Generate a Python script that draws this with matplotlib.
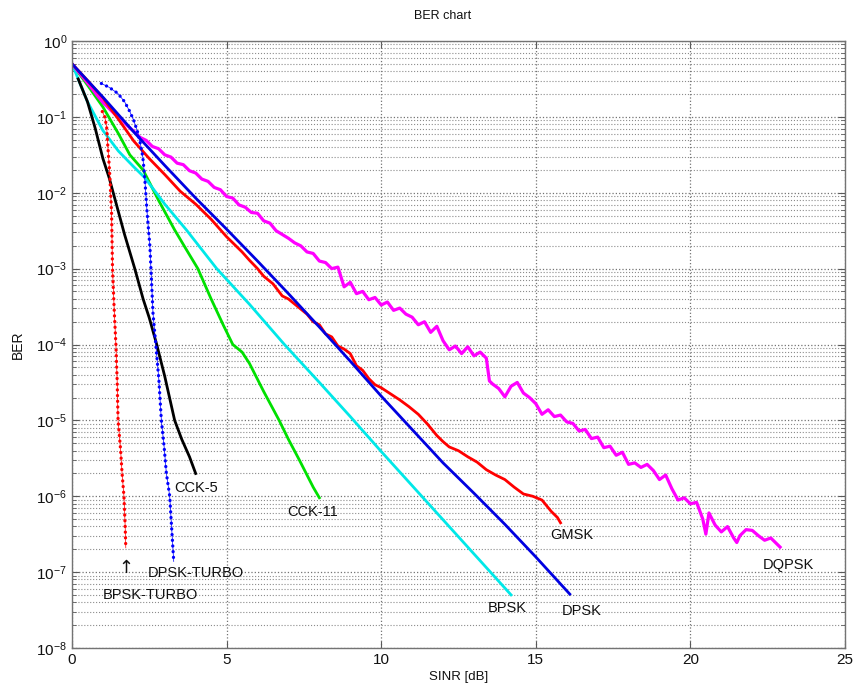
import numpy as np
import matplotlib
matplotlib.use("Agg")
import matplotlib.pyplot as plt
from matplotlib.ticker import FixedLocator, NullFormatter, LogFormatterMathtext

plt.rcParams['font.family'] = ['Liberation Sans', 'DejaVu Sans']
plt.rcParams['mathtext.default'] = 'regular'

# ---------------- data (SINR in dB, BER given as log10 exponent) ----------------
bpsk_x = [0, 0.25, 0.5, 1.0, 1.5, 2.0, 2.35, 3.0, 3.7, 4.68, 5.74, 6.87, 8.0, 9.0, 10.0, 11.0, 12.0, 13.0, 14.2]
bpsk_log = [-0.3, -0.55, -0.8, -1.18, -1.45, -1.66, -1.8, -2.15, -2.49, -3.0, -3.47, -4.0, -4.5, -4.95, -5.41, -5.86, -6.31, -6.76, -7.3]

dpsk_x = [0, 1, 2, 3, 4, 5, 6, 7, 8, 9, 10, 11, 12, 13, 14, 15, 16.1]
dpsk_log = [-0.3, -0.74, -1.2, -1.64, -2.07, -2.48, -2.9, -3.33, -3.77, -4.22, -4.68, -5.12, -5.56, -5.96, -6.37, -6.8, -7.29]

cck11_x = [0, 0.5, 1.0, 1.5, 1.87, 2.3, 2.8, 3.32, 3.7, 4.07, 4.5, 4.9, 5.2, 5.5, 5.74, 6.2, 6.7, 7.0, 7.35, 7.6, 7.8, 8.0]
cck11_log = [-0.3, -0.58, -0.87, -1.22, -1.5, -1.7, -2.1, -2.49, -2.75, -3.0, -3.4, -3.75, -4.0, -4.1, -4.25, -4.62, -5.0, -5.25, -5.52, -5.72, -5.88, -6.02]

cck5_x = [0.2, 0.5, 0.75, 1.0, 1.2, 1.4, 1.7, 2.03, 2.3, 2.5, 2.74, 3.0, 3.32, 3.55, 3.8, 4.0]
cck5_log = [-0.5, -0.8, -1.15, -1.55, -1.8, -2.1, -2.55, -3.0, -3.4, -3.65, -4.0, -4.42, -5.0, -5.25, -5.48, -5.7]

gmsk_x = [0, 0.5, 1.0, 1.5, 2.0, 2.5, 3.0, 3.5, 4.0, 4.5, 5.0, 5.5, 5.74, 6.0, 6.2, 6.5, 6.8, 7.0, 7.3, 7.6,
          7.8, 8.0, 8.2, 8.4, 8.6, 8.8, 9.0, 9.2, 9.4, 9.6, 9.8, 10.0, 10.3, 10.6, 10.9, 11.2, 11.5, 11.8,
          12.0, 12.2, 12.5, 12.8, 13.1, 13.4, 13.7, 14.0, 14.3, 14.6, 14.9, 15.2, 15.5, 15.7, 15.8]
gmsk_log = [-0.3, -0.52, -0.75, -1.03, -1.32, -1.55, -1.76, -1.98, -2.15, -2.35, -2.58, -2.78, -2.89, -3.0, -3.1, -3.2,
            -3.36, -3.4, -3.5, -3.6, -3.7, -3.74, -3.86, -3.9, -4.02, -4.06, -4.12, -4.28, -4.34, -4.45, -4.53,
            -4.57, -4.65, -4.73, -4.82, -4.92, -5.05, -5.2, -5.28, -5.35, -5.4, -5.48, -5.55, -5.65, -5.72,
            -5.78, -5.88, -5.97, -6.0, -6.05, -6.2, -6.28, -6.35]

dqpsk_x = [0.0, 0.2, 0.4, 0.6, 0.8, 1.0, 1.2, 1.4, 1.6, 1.8, 2.0, 2.2, 2.4, 2.6, 2.8, 3.0, 3.2, 3.4, 3.6, 3.8,
           4.0, 4.2, 4.4, 4.6, 4.8, 5.0, 5.2, 5.4, 5.6, 5.8, 6.0, 6.2, 6.4, 6.6, 6.8, 7.0, 7.2, 7.4, 7.6, 7.8,
           8.0, 8.2, 8.4, 8.6, 8.8, 9.0, 9.2, 9.4, 9.6, 9.8, 10.0, 10.2, 10.4, 10.6, 10.8, 11.0, 11.2, 11.4,
           11.6, 11.8, 12.0, 12.2, 12.4, 12.6, 12.8, 13.0, 13.2, 13.4, 13.5, 13.6, 13.8, 14.0, 14.2, 14.4,
           14.6, 14.8, 15.0, 15.2, 15.4, 15.6, 15.8, 16.0, 16.2, 16.4, 16.6, 16.8, 17.0, 17.2, 17.4, 17.6,
           17.8, 18.0, 18.2, 18.4, 18.6, 18.8, 19.0, 19.2, 19.4, 19.6, 19.8, 20.0, 20.2, 20.4, 20.5, 20.6,
           20.8, 21.0, 21.2, 21.4, 21.5, 21.6, 21.8, 22.0, 22.2, 22.4, 22.6, 22.8, 22.9]
dqpsk_log = [-0.30, -0.40, -0.50, -0.60, -0.71, -0.81, -0.89, -0.97, -1.03, -1.12, -1.19, -1.27, -1.31, -1.39,
             -1.42, -1.50, -1.53, -1.61, -1.63, -1.71, -1.74, -1.82, -1.85, -1.93, -1.96, -2.05, -2.07, -2.16,
             -2.19, -2.26, -2.27, -2.37, -2.40, -2.50, -2.55, -2.60, -2.66, -2.70, -2.78, -2.80, -2.90, -2.92,
             -3.00, -2.98, -3.24, -3.18, -3.33, -3.30, -3.41, -3.38, -3.48, -3.44, -3.55, -3.52, -3.60, -3.64,
             -3.74, -3.70, -3.84, -3.76, -3.95, -4.07, -4.02, -4.12, -4.03, -4.15, -4.10, -4.18, -4.48, -4.52,
             -4.58, -4.69, -4.55, -4.50, -4.64, -4.70, -4.78, -4.92, -4.86, -4.95, -4.93, -5.02, -5.04, -5.14,
             -5.12, -5.24, -5.22, -5.36, -5.34, -5.46, -5.42, -5.58, -5.56, -5.62, -5.58, -5.66, -5.78, -5.72,
             -5.90, -6.05, -6.02, -6.10, -6.08, -6.30, -6.50, -6.22, -6.38, -6.47, -6.40, -6.55, -6.61, -6.52,
             -6.44, -6.45, -6.52, -6.58, -6.55, -6.63, -6.67]

bpsk_turbo_x = [0.98, 1.06, 1.12, 1.16, 1.2, 1.23, 1.28, 1.31, 1.37, 1.42, 1.46, 1.49, 1.57, 1.62, 1.68, 1.72, 1.74]
bpsk_turbo_log = [-0.93, -1.0, -1.13, -1.4, -1.62, -1.83, -2.27, -3.0, -3.59, -4.0, -4.47, -5.0, -5.38, -5.7, -6.0, -6.4, -6.68]

dpsk_turbo_x = [0.95, 1.2, 1.48, 1.7, 1.87, 2.0, 2.13, 2.22, 2.29, 2.33, 2.36, 2.43, 2.52, 2.57, 2.62, 2.71,
                2.81, 2.89, 2.98, 3.05, 3.16, 3.22, 3.29]
dpsk_turbo_log = [-0.56, -0.61, -0.69, -0.8, -0.93, -1.05, -1.21, -1.37, -1.53, -1.7, -1.85, -2.27, -2.71, -3.15,
                  -3.59, -4.0, -4.47, -5.0, -5.35, -5.69, -6.0, -6.4, -6.86]

# labels: (text, x, log10 BER)
label_text = ["CCK-5", "CCK-11", "DPSK-TURBO", "BPSK-TURBO", "GMSK", "DQPSK", "BPSK", "DPSK"]
label_x = [3.3, 6.97, 2.45, 1.0, 15.48, 22.35, 13.45, 15.84]
label_log = [-5.89, -6.21, -7.01, -7.3, -6.51, -6.9, -7.47, -7.51]
arrow_x, arrow_log = 1.74, -6.94

x_ticks = [0, 5, 10, 15, 20, 25]
y_tick_exps = [0, -1, -2, -3, -4, -5, -6, -7, -8]


def ber(v):
    return 10.0 ** np.asarray(v, dtype=float)


fig = plt.figure(figsize=(8.58, 6.96), dpi=100)
ax = fig.add_axes([72 / 858, (696 - 648) / 696, (845 - 72) / 858, (648 - 41) / 696])

lw = 2.0
ax.plot(cck11_x, ber(cck11_log), color='#00e000', lw=lw)
ax.plot(bpsk_x, ber(bpsk_log), color='#00e8e8', lw=lw)
ax.plot(dqpsk_x, ber(dqpsk_log), color='#ff00ff', lw=2.3)
ax.plot(gmsk_x, ber(gmsk_log), color='#ff0000', lw=lw)
ax.plot(dpsk_x, ber(dpsk_log), color='#0000e0', lw=lw)
ax.plot(cck5_x, ber(cck5_log), color='black', lw=lw)

for xs, ls, col in [(bpsk_turbo_x, bpsk_turbo_log, '#ff0000'), (dpsk_turbo_x, dpsk_turbo_log, '#0000ff')]:
    ax.plot(xs, ber(ls), color=col, lw=0.5)
    ax.plot(xs, ber(ls), color=col, lw=2.4, linestyle=(0, (0.01, 1.7)), dash_capstyle='round')

for t, x, l in zip(label_text, label_x, label_log):
    ax.text(x, 10 ** l, t, fontsize=10.5, ha='left', va='center', color='#111111')
ax.text(arrow_x, 10 ** arrow_log, "\u2191", fontsize=13, ha='center', va='center',
        color='#111111', family=['DejaVu Sans'])

ax.set_yscale('log')
ax.set_xlim(0, 25)
ax.set_ylim(1e-8, 1)
ax.xaxis.set_major_locator(FixedLocator(x_ticks))
ax.yaxis.set_major_locator(FixedLocator([10.0 ** e for e in y_tick_exps]))
ax.yaxis.set_major_formatter(LogFormatterMathtext())
minor = [m * 10.0 ** e for e in range(-8, 0) for m in range(2, 10)]
ax.yaxis.set_minor_locator(FixedLocator(minor))
ax.yaxis.set_minor_formatter(NullFormatter())

ax.grid(True, which='major', axis='both', linestyle=':', color='0.45', lw=0.9)
ax.grid(True, which='minor', axis='y', linestyle=':', color='0.55', lw=0.8)

ax.tick_params(which='both', direction='in', top=True, right=True, labelsize=11, colors='0.35',
               labelcolor='#111111')
ax.tick_params(which='major', length=5)
ax.tick_params(which='minor', length=3)
for s in ax.spines.values():
    s.set_color('0.45')
    s.set_linewidth(1.0)

ax.set_title('BER chart', fontsize=9, pad=16, color='#111111', x=0.479)
ax.set_xlabel('SINR [dB]', fontsize=9.5, labelpad=3, color='#111111')
ax.set_ylabel('BER', fontsize=10, labelpad=8, color='#111111')

fig.savefig('out.png', dpi=100)
